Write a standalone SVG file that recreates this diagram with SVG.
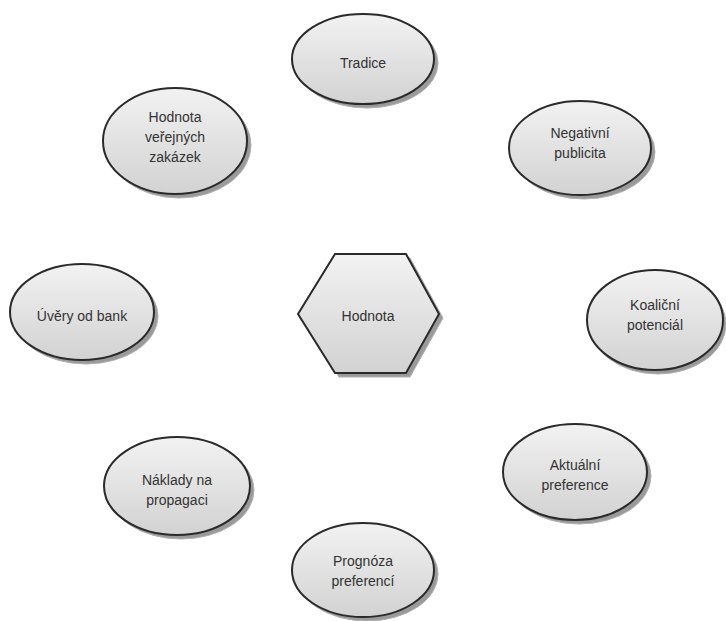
<svg xmlns="http://www.w3.org/2000/svg" width="726" height="621" viewBox="0 0 726 621">
<defs>
<linearGradient id="g" x1="0" y1="0" x2="0" y2="1">
<stop offset="0" stop-color="#f2f2f2"/>
<stop offset="1" stop-color="#d2d2d2"/>
</linearGradient>
<style>
.sh{fill:#9a9a9a;stroke:#b0b0b0;stroke-width:1}
.nd{fill:url(#g);stroke:#2a2a2a;stroke-width:2}
text{font-family:"Liberation Sans",Arial,sans-serif;font-size:14px;fill:#333;text-anchor:middle}
</style>
</defs>
<rect width="726" height="621" fill="#fff"/>
<g id="connectors"></g>
<g id="hodnota">
<polygon class="sh" points="302,318 339,258 410,258 443,318 410,377 339,377"/>
<polygon class="nd" points="298,314 335,254 406,254 439,314 406,373 335,373"/>
<text x="368" y="321">Hodnota</text>
</g>
<g id="tradice">
<ellipse class="sh" cx="367" cy="63" rx="71" ry="45"/>
<ellipse class="nd" cx="363" cy="59" rx="71" ry="45"/>
<text x="363" y="68">Tradice</text>
</g>
<g id="verejne-zakazky">
<ellipse class="sh" cx="179" cy="145" rx="72" ry="53"/>
<ellipse class="nd" cx="175" cy="141" rx="72" ry="53"/>
<text x="175" y="122">Hodnota</text>
<text x="175" y="142">veřejných</text>
<text x="175" y="162">zakázek</text>
</g>
<g id="negativni-publicita">
<ellipse class="sh" cx="584" cy="152" rx="71" ry="47"/>
<ellipse class="nd" cx="580" cy="148" rx="71" ry="47"/>
<text x="580" y="138">Negativní</text>
<text x="580" y="158">publicita</text>
</g>
<g id="uvery">
<ellipse class="sh" cx="86" cy="316" rx="72" ry="48"/>
<ellipse class="nd" cx="82" cy="312" rx="72" ry="48"/>
<text x="82" y="321">Úvěry od bank</text>
</g>
<g id="koalicni-potencial">
<ellipse class="sh" cx="658" cy="324" rx="68" ry="50"/>
<ellipse class="nd" cx="655" cy="320" rx="68" ry="50"/>
<text x="655" y="310">Koaliční</text>
<text x="655" y="330">potenciál</text>
</g>
<g id="aktualni-preference">
<ellipse class="sh" cx="579" cy="476" rx="72" ry="48"/>
<ellipse class="nd" cx="575" cy="472" rx="72" ry="48"/>
<text x="575" y="470">Aktuální</text>
<text x="575" y="490">preference</text>
</g>
<g id="naklady">
<ellipse class="sh" cx="181" cy="490" rx="73" ry="49"/>
<ellipse class="nd" cx="177" cy="486" rx="73" ry="49"/>
<text x="177" y="485">Náklady na</text>
<text x="177" y="505">propagaci</text>
</g>
<g id="prognoza">
<ellipse class="sh" cx="367" cy="574" rx="71" ry="47"/>
<ellipse class="nd" cx="363" cy="570" rx="71" ry="47"/>
<text x="363" y="566">Prognóza</text>
<text x="363" y="586">preferencí</text>
</g>
</svg>
